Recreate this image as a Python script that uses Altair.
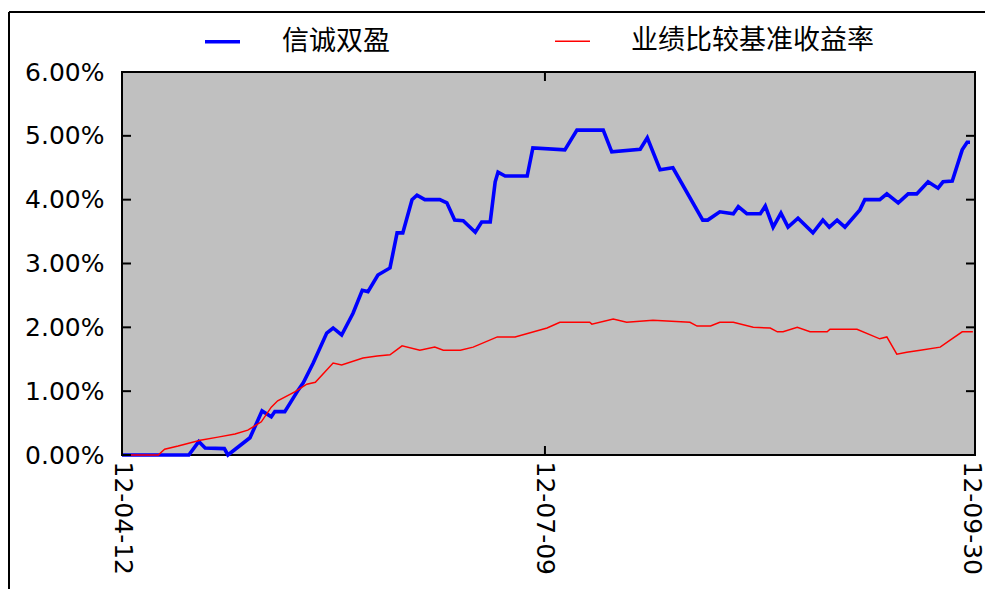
import altair as alt
import pandas as pd

# ---- data (x = trading-day index, y = return in %) ----
series_names = ["信诚双盈", "业绩比较基准收益率"]

blue_t = [0, 9.4, 10.8, 11.7, 14.4, 14.9, 18.0, 19.7, 21.0, 21.5, 22.9, 24.8, 25.5, 26.9,
          28.8, 29.7, 30.9, 32.5, 33.8, 34.6, 36.0, 37.7, 38.7, 39.5, 40.8, 41.5, 42.6,
          44.7, 45.7, 46.8, 48.0, 49.7, 50.6, 51.8, 52.5, 52.9, 53.9, 57.0, 57.8, 62.3,
          64.0, 67.7, 68.9, 72.9, 73.9, 75.7, 77.5, 81.7, 82.4, 84.1, 86.0, 86.7, 87.9,
          89.8, 90.5, 91.6, 92.7, 93.7, 95.1, 97.2, 98.6, 99.5, 100.6, 101.7, 103.8,
          104.5, 106.6, 107.6, 109.2, 110.6, 111.8, 113.4, 114.8, 115.5, 116.8, 118.2,
          118.9, 119.3]
blue_v = [0.00, 0.00, 0.21, 0.11, 0.10, 0.00, 0.27, 0.69, 0.60, 0.68, 0.68, 1.02, 1.13, 1.44,
          1.91, 1.99, 1.88, 2.22, 2.58, 2.56, 2.82, 2.93, 3.48, 3.48, 4.00, 4.07, 4.00,
          4.00, 3.95, 3.68, 3.67, 3.49, 3.65, 3.65, 4.28, 4.43, 4.37, 4.37, 4.81, 4.78,
          5.09, 5.09, 4.75, 4.79, 4.97, 4.47, 4.50, 3.68, 3.68, 3.81, 3.78, 3.89, 3.78,
          3.78, 3.90, 3.57, 3.79, 3.57, 3.71, 3.48, 3.68, 3.57, 3.68, 3.57, 3.84,
          4.00, 4.00, 4.09, 3.95, 4.09, 4.09, 4.28, 4.18, 4.28, 4.29, 4.78,
          4.90, 4.90]

red_t = [0, 5.1, 6.0, 7.9, 11.0, 13.5, 15.9, 17.7, 19.6, 21.0, 21.9, 24.3, 26.0, 27.2, 29.7,
         30.9, 33.9, 35.9, 37.7, 39.4, 41.9, 44.0, 45.2, 47.6, 49.4, 52.8, 55.3, 59.8, 61.6,
         65.8, 66.1, 69.1, 71.0, 74.7, 79.9, 80.9, 82.8, 84.1, 86.0, 88.8, 91.2, 92.2, 93.0,
         95.0, 96.8, 99.2, 99.6, 103.4, 106.6, 107.6, 109.0, 110.4, 112.3, 115.1, 116.5,
         118.2, 119.7]
red_v = [0.00, 0.00, 0.09, 0.14, 0.23, 0.28, 0.33, 0.39, 0.52, 0.75, 0.85, 0.99, 1.11, 1.14, 1.44,
         1.41, 1.52, 1.55, 1.57, 1.71, 1.64, 1.69, 1.64, 1.64, 1.69, 1.85, 1.85, 1.99, 2.08,
         2.08, 2.05, 2.13, 2.08, 2.11, 2.08, 2.02, 2.02, 2.08, 2.08, 2.00, 1.99, 1.93, 1.93,
         2.00, 1.93, 1.93, 1.97, 1.97, 1.82, 1.85, 1.58, 1.61, 1.64, 1.69, 1.80,
         1.93, 1.93]

x_tick_pos = [0, 59.5, 120]
x_tick_labels = ["12-04-12", "12-07-09", "12-09-30"]
y_ticks = [0, 1, 2, 3, 4, 5, 6]

series_colors = ["#0000FF", "#FF0000"]
series_widths = [3.6, 1.5]

df = pd.concat([
    pd.DataFrame({"t": blue_t, "v": blue_v, "series": series_names[0], "order": 1}),
    pd.DataFrame({"t": red_t, "v": red_v, "series": series_names[1], "order": 0}),
])
xt = pd.DataFrame({"t": x_tick_pos})
yt = pd.DataFrame({"v": y_ticks})

W, H = 853, 383

label_expr = " : ".join(
    [f"datum.value == {p} ? '{l}'" for p, l in zip(x_tick_pos, x_tick_labels)] + ["''"]
)

xscale = alt.Scale(domain=[0, 120], nice=False, zero=False)
yscale = alt.Scale(domain=[0, 6], nice=False)

legend = alt.Legend(
    title=None, orient="none", direction="horizontal", legendX=81, legendY=-50,
    symbolType="stroke", symbolSize=1225, labelFont="Noto Sans CJK SC",
    labelFontSize=27, labelColor="#000000", labelOffset=40, columnPadding=162,
    labelLimit=0, padding=0,
)

lines = alt.Chart(df).mark_line(interpolate="linear").encode(
    x=alt.X("t:Q", scale=xscale,
            axis=alt.Axis(values=x_tick_pos, labelExpr=label_expr, labelAngle=90,
                          labelAlign="left", labelBaseline="middle", labelPadding=6,
                          labelOffset={"condition": {"test": f"datum.value == {x_tick_pos[-1]}",
                                                     "value": -4}, "value": 0},
                          tickSize=0, domain=False, grid=False, title=None,
                          labelFont="DejaVu Sans", labelFontSize=25, labelColor="#000000")),
    y=alt.Y("v:Q", scale=yscale,
            axis=alt.Axis(values=y_ticks, labelExpr="format(datum.value, '.2f') + '%'",
                          tickSize=0, domain=False, grid=False, title=None, labelPadding=18,
                          labelFont="DejaVu Sans", labelFontSize=25, labelColor="#000000")),
    color=alt.Color("series:N", scale=alt.Scale(domain=series_names, range=series_colors),
                    legend=legend),
    strokeWidth=alt.StrokeWidth("series:N",
                                scale=alt.Scale(domain=series_names, range=series_widths),
                                legend=legend),
    order=alt.Order("order:Q"),
)

tick_y_left = alt.Chart(yt).mark_rule(color="black", strokeWidth=2).encode(
    y=alt.Y("v:Q", scale=yscale, axis=None), x=alt.value(0), x2=alt.value(9))
tick_y_right = alt.Chart(yt).mark_rule(color="black", strokeWidth=2).encode(
    y=alt.Y("v:Q", scale=yscale, axis=None), x=alt.value(W - 9), x2=alt.value(W))
tick_x_top = alt.Chart(xt).mark_rule(color="black", strokeWidth=2).encode(
    x=alt.X("t:Q", scale=xscale, axis=None), y=alt.value(0), y2=alt.value(9))
tick_x_bottom = alt.Chart(xt).mark_rule(color="black", strokeWidth=2).encode(
    x=alt.X("t:Q", scale=xscale, axis=None), y=alt.value(H - 9), y2=alt.value(H))

frame_top = alt.Chart(xt).mark_rule(color="black", strokeWidth=2).encode(
    x=alt.value(-113), x2=alt.value(W + 12), y=alt.value(-60))
frame_left = alt.Chart(xt).mark_rule(color="black", strokeWidth=2).encode(
    x=alt.value(-113), y=alt.value(-60), y2=alt.value(H + 200))

chart = alt.layer(
    lines, tick_y_left, tick_y_right, tick_x_top, tick_x_bottom, frame_top, frame_left
).resolve_axis(
    x="independent", y="independent"
).properties(
    width=W, height=H,
    autosize=alt.AutoSizeParams(type="none"),
    padding={"left": 114, "top": 64, "right": 10, "bottom": 134},
    background="white",
).configure_view(
    fill="#C0C0C0", stroke="#000000", strokeWidth=2
)

chart.save("out.html", embed_options={"renderer": "svg", "actions": False})
